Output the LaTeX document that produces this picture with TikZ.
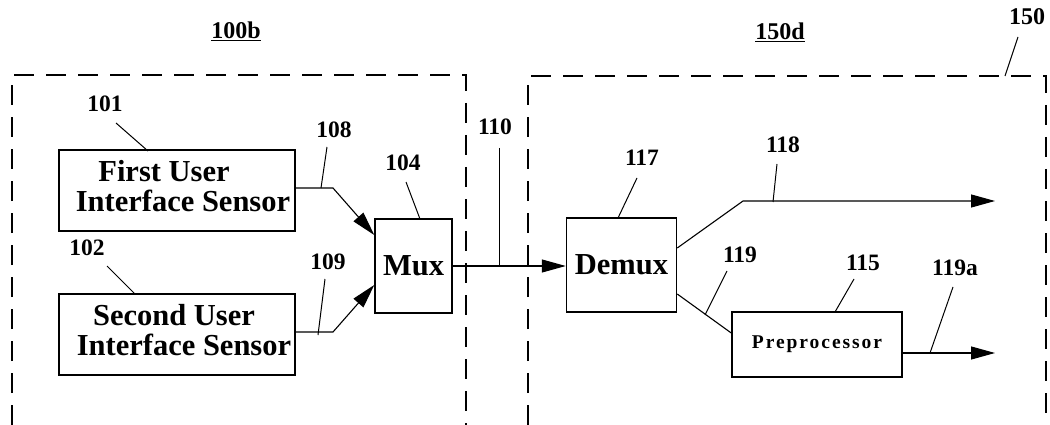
\documentclass[tikz,border=0pt]{standalone}
\usepackage{fontspec}
\setmainfont{Liberation Serif}
\usetikzlibrary{arrows.meta}
\begin{document}
\begin{tikzpicture}[x=1pt,y=-1pt,
  dashbox/.style={line width=1.3pt,dash pattern=on 20pt off 12pt},
  blk/.style={draw,line width=1.5pt,rectangle,inner sep=0pt,align=center,font=\bfseries\fontsize{30.5}{30}\selectfont},
  lab/.style={inner sep=0pt,font=\bfseries\fontsize{23.5}{23.5}\selectfont},
  ttl/.style={inner sep=0pt,font=\bfseries\fontsize{24}{24}\selectfont},
  wire/.style={line width=1.1pt},
  lead/.style={line width=1pt},
  arr/.style={wire,-{Triangle[length=24pt,width=13pt]}}]
\useasboundingbox (0,0) rectangle (1050,425);
% dashed enclosures
\draw[dashbox] (12,425) -- (12,75) -- (466,75) -- (466,425);
\draw[dashbox] (528,425) -- (528,76) -- (1046,76) -- (1046,425);
% titles
\node[ttl] (t100b) at (236,31) {\underline{100b}};
\node[ttl] (t150d) at (780,32) {\underline{150d}};
\node[ttl] (t150) at (1027,17) {150};
% blocks
\node[blk,minimum width=236pt,minimum height=81pt] (b101) at (177,190.5) {\raisebox{3pt}{\begin{tabular}{@{}c@{}}First User\rule{26pt}{0pt}\\ \rule{12pt}{0pt}Interface Sensor\end{tabular}}};
\node[blk,minimum width=236pt,minimum height=81pt] (b102) at (177,334.5) {\raisebox{3pt}{\begin{tabular}{@{}c@{}}Second User\rule{6pt}{0pt}\\ \rule{14pt}{0pt}Interface Sensor\end{tabular}}};
\node[blk,minimum width=77pt,minimum height=94pt] (mux) at (413.5,266) {Mux};
\node[blk,minimum width=110pt,minimum height=94pt] (demux) at (621.5,265) {Demux};
\node[blk,minimum width=170pt,minimum height=65pt,font=\bfseries\fontsize{19.5}{19.5}\selectfont\addfontfeatures{LetterSpace=10}] (prep) at (817,344.5) {\raisebox{-5pt}{Preprocessor}};
% labels
\node[lab] (l101) at (105,104) {101};
\node[lab] (l102) at (87,248) {102};
\node[lab] (l108) at (334,130) {108};
\node[lab] (l109) at (328,262) {109};
\node[lab] (l104) at (403,163) {104};
\node[lab] (l110) at (495,127) {110};
\node[lab] (l117) at (642,158) {117};
\node[lab] (l118) at (783,145) {118};
\node[lab] (l119) at (740,255) {119};
\node[lab] (l115) at (863,263) {115};
\node[lab] (l119a) at (955,268) {119a};
% bend and end points
\coordinate (k108) at (333,188);
\coordinate (k109) at (333,332);
\coordinate (k118) at (743,201);
\coordinate (e118) at (995,201);
\coordinate (e119a) at (995,353);
% connectors
\draw[arr] ([yshift=2.5pt]b101.east) -- (k108) -- ([yshift=31pt]mux.west);
\draw[arr] ([yshift=2.5pt]b102.east) -- (k109) -- ([yshift=-19pt]mux.west);
\draw[arr] (mux.east) -- (mux.east -| demux.west);
\draw[arr] ([yshift=17pt]demux.east) -- (k118) -- (e118);
\draw[wire] ([yshift=-29pt]demux.east) -- ([yshift=11.5pt]prep.west);
\draw[arr] ([yshift=-8.5pt]prep.east) -- (e119a);
% leader lines
\coordinate (a150) at (1018,37); \coordinate (z150) at (1005,76);
\coordinate (a101) at (116,123); \coordinate (z101) at (148,151);
\coordinate (a102) at (107,266); \coordinate (z102) at (135,294);
\coordinate (a108) at (327,147); \coordinate (z108) at (321,188);
\coordinate (a109) at (325,279); \coordinate (z109) at (318,335);
\coordinate (a104) at (406,182); \coordinate (z104) at (420,219);
\coordinate (a110) at (499,148); \coordinate (z110) at (499,266);
\coordinate (a117) at (637,178); \coordinate (z117) at (618,218);
\coordinate (a118) at (777,164); \coordinate (z118) at (773,202);
\coordinate (a119) at (727,271); \coordinate (z119) at (705,315);
\coordinate (a115) at (854,279); \coordinate (z115) at (835,312);
\coordinate (a119a) at (953,287); \coordinate (z119a) at (930,353);
\foreach \n in {150,101,102,108,109,104,110,117,118,119,115,119a}
  \draw[lead] (a\n) -- (z\n);
\end{tikzpicture}
\end{document}
